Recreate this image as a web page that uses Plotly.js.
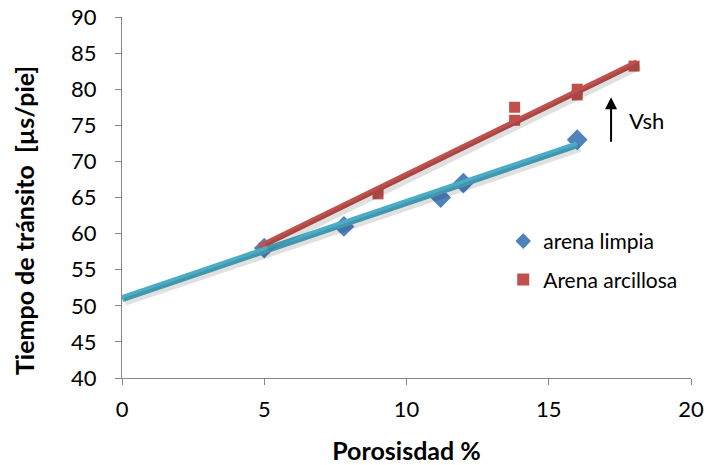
<!DOCTYPE html>
<html>
<head>
<meta charset="utf-8">
<script src="https://cdn.plot.ly/plotly-3.0.1.min.js"></script>
<style>html,body{margin:0;padding:0;background:#fff;}#chart{width:723px;height:465px;}</style>
</head>
<body>
<div id="chart"></div>
<script>
// Data
const limpiaX = [5, 7.8, 11.2, 12, 16];
const limpiaY = [58, 61, 65, 67, 73];
const arcillosaX = [5, 9, 13.8, 13.8, 16, 16, 18];
const arcillosaY = [58, 65.5, 77.5, 75.7, 80, 79.2, 83.2];
// Trend lines (end points)
const trendLimpiaX = [0, 16];
const trendLimpiaY = [51, 72.3];
const trendArcX = [5, 18.1];
const trendArcY = [58.5, 83.7];
const xTicks = [0, 5, 10, 15, 20];
const yTicks = [40, 45, 50, 55, 60, 65, 70, 75, 80, 85, 90];

const FONT = 'Lato, "Open Sans", sans-serif';

const traces = [
  // soft shadows of the trend lines
  {x: trendArcX, y: trendArcY, xaxis: 'x2', yaxis: 'y2', mode: 'lines', showlegend: false,
   line: {color: 'rgba(0,0,0,0.12)', width: 8}, hoverinfo: 'skip'},
  {x: trendLimpiaX, y: trendLimpiaY, xaxis: 'x2', yaxis: 'y2', mode: 'lines', showlegend: false,
   line: {color: 'rgba(0,0,0,0.12)', width: 8}, hoverinfo: 'skip'},
  {x: limpiaX, y: limpiaY, mode: 'markers', name: 'arena limpia', legendgroup: 'a',
   marker: {symbol: 'diamond', size: 16, color: '#4F81BD'}},
  {x: arcillosaX, y: arcillosaY, mode: 'markers', name: 'Arena arcillosa', legendgroup: 'b',
   marker: {symbol: 'square', size: 11, color: '#C0504D'}},
  {x: trendArcX, y: trendArcY, mode: 'lines', showlegend: false,
   line: {color: '#C0504D', width: 6}},
  {x: trendLimpiaX, y: trendLimpiaY, mode: 'lines', showlegend: false,
   line: {color: '#4BACC6', width: 7}}
];

const layout = {
  width: 723, height: 465,
  margin: {l: 122, r: 32, t: 17, b: 87},
  paper_bgcolor: '#fff', plot_bgcolor: '#fff',
  font: {family: FONT, color: '#000', size: 22},
  showlegend: true,
  legend: {x: 0.67, y: 0.435, xanchor: 'left', yanchor: 'top', bgcolor: 'rgba(0,0,0,0)',
           font: {size: 21, family: FONT}, traceorder: 'grouped', tracegroupgap: 8,
           itemwidth: 30, itemsizing: 'constant'},
  xaxis: {range: [0, 20], tickvals: xTicks, ticktext: xTicks.map(String), showgrid: false, zeroline: false,
          showline: true, linecolor: '#868686', linewidth: 1, ticks: 'outside', ticklen: 6, tickcolor: '#868686',
          tickfont: {size: 22}, ticklabelstandoff: 6,
          title: {text: '<b>Porosisdad %</b>', font: {size: 25}, standoff: 22}},
  yaxis: {range: [40, 90], tickvals: yTicks, ticktext: yTicks.map(String), showgrid: false, zeroline: false,
          showline: true, linecolor: '#868686', linewidth: 1, ticks: 'outside', ticklen: 6, tickcolor: '#868686',
          tickfont: {size: 22}, ticklabelstandoff: 14},
  xaxis2: {overlaying: 'x', range: [-0.1, 19.9], visible: false},
  yaxis2: {overlaying: 'y', range: [40.45, 90.45], visible: false},
  annotations: [
    {x: 17.19, y: 78.9, ax: 17.19, ay: 72.5, xref: 'x', yref: 'y', axref: 'x', ayref: 'y',
     text: '', showarrow: true, arrowhead: 2, arrowsize: 1.2, arrowwidth: 2, arrowcolor: '#000', standoff: 0},
    {x: 17.75, y: 75.6, xref: 'x', yref: 'y', text: 'Vsh', showarrow: false, xanchor: 'left',
     font: {size: 22, family: FONT}},
    {x: -0.172, y: 0.435, xref: 'paper', yref: 'paper', text: '<b>Tiempo de tránsito  [µs/pie]</b>',
     textangle: -90, showarrow: false, xanchor: 'center', yanchor: 'middle', font: {size: 25, family: FONT}}
  ]
};

Plotly.newPlot('chart', traces, layout, {displayModeBar: false, staticPlot: true});
</script>
</body>
</html>
